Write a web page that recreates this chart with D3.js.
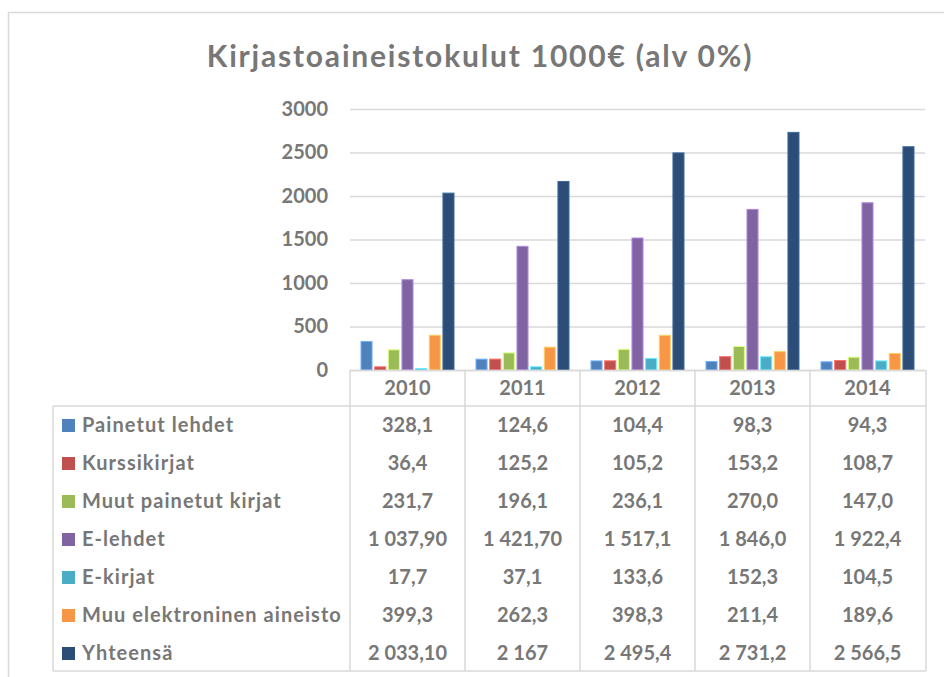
<!DOCTYPE html>
<head>
<meta charset="utf-8">
<title>Kirjastoaineistokulut</title>
<style>
body { margin: 0; background: #fff; }
text { font-family: Lato, "Open Sans", sans-serif; font-weight: bold; fill: #777; }
</style>
</head>
<body>
<svg id="chart" width="944" height="677"></svg>
<script src="https://cdn.jsdelivr.net/npm/d3@7"></script>
<script>
//-----------------------------DATA-----------------------------//
var years = ["2010", "2011", "2012", "2013", "2014"];
var seriesNames = ["Painetut lehdet", "Kurssikirjat", "Muut painetut kirjat", "E-lehdet",
    "E-kirjat", "Muu elektroninen aineisto", "Yhteensä"];
var colors = ["#4f81bd", "#c0504d", "#9bbb59", "#8064a2", "#4bacc6", "#f79646", "#2c4d75"];

var painetutLehdet = [328.1, 124.6, 104.4, 98.3, 94.3];
var kurssikirjat = [36.4, 125.2, 105.2, 153.2, 108.7];
var muutPainetut = [231.7, 196.1, 236.1, 270.0, 147.0];
var eLehdet = [1037.9, 1421.7, 1517.1, 1846.0, 1922.4];
var eKirjat = [17.7, 37.1, 133.6, 152.3, 104.5];
var muuElektroninen = [399.3, 262.3, 398.3, 211.4, 189.6];
var yhteensa = [2033.1, 2167, 2495.4, 2731.2, 2566.5];

// table cells as printed in the original (formatting differs per cell)
var painetutLehdetLabels = ["328,1", "124,6", "104,4", "98,3", "94,3"];
var kurssikirjatLabels = ["36,4", "125,2", "105,2", "153,2", "108,7"];
var muutPainetutLabels = ["231,7", "196,1", "236,1", "270,0", "147,0"];
var eLehdetLabels = ["1 037,90", "1 421,70", "1 517,1", "1 846,0", "1 922,4"];
var eKirjatLabels = ["17,7", "37,1", "133,6", "152,3", "104,5"];
var muuElektroninenLabels = ["399,3", "262,3", "398,3", "211,4", "189,6"];
var yhteensaLabels = ["2 033,10", "2 167", "2 495,4", "2 731,2", "2 566,5"];

var yTicks = [0, 500, 1000, 1500, 2000, 2500, 3000];

var allValues = [painetutLehdet, kurssikirjat, muutPainetut, eLehdet, eKirjat, muuElektroninen, yhteensa];
var allLabels = [painetutLehdetLabels, kurssikirjatLabels, muutPainetutLabels, eLehdetLabels,
    eKirjatLabels, muuElektroninenLabels, yhteensaLabels];

var series = seriesNames.map(function (name, i) {
    return {name: name, color: colors[i], values: allValues[i], labels: allLabels[i]};
});

//-----------------------------SVG------------------------------//
var svg = d3.select("svg");
var lineColor = "#d9d9d9";

// chart frame (top and left edges visible)
svg.append("path")
    .attr("d", "M8.5,677V12.5H944")
    .attr("fill", "none")
    .attr("stroke", lineColor)
    .attr("stroke-width", 1.5);

svg.append("text")
    .attr("x", 480)
    .attr("y", 67)
    .attr("text-anchor", "middle")
    .style("font-size", "30px")
    .style("letter-spacing", "1.8px")
    .text("Kirjastoaineistokulut 1000€ (alv 0%)");

//----------------------------SCALES----------------------------//
var x0 = d3.scaleBand().domain(years).range([350, 925]);
var x1 = d3.scaleBand().domain(seriesNames).range([11, 104]).paddingInner(0.19);
var y = d3.scaleLinear().domain([0, 3000]).range([370, 109]);

//-----------------------------AXES-----------------------------//
var yAxis = svg.append("g")
    .attr("transform", "translate(350,0)")
    .call(d3.axisLeft(y).tickValues(yTicks).tickFormat(d3.format("d")).tickSize(-575).tickPadding(22));
yAxis.select(".domain").remove();
yAxis.selectAll("line").attr("stroke", lineColor).attr("stroke-width", 1.5);
yAxis.selectAll("text")
    .style("font-size", "20px")
    .style("font-family", "Lato, sans-serif")
    .attr("fill", "#777");

//----------------------------BARS------------------------------//
var group = svg.selectAll(".year")
    .data(years)
    .enter().append("g")
    .attr("class", "year")
    .attr("transform", function (d) { return "translate(" + x0(d) + ",0)"; });

group.selectAll("rect")
    .data(function (d, j) {
        return series.map(function (s) { return {name: s.name, color: s.color, value: s.values[j]}; });
    })
    .enter().append("rect")
    .attr("x", function (d) { return x1(d.name); })
    .attr("width", x1.bandwidth())
    .attr("y", function (d) { return y(d.value); })
    .attr("height", function (d) { return y(0) - y(d.value); })
    .attr("fill", function (d) { return d.color; })
    .attr("stroke", function (d) { return d3.color(d.color).brighter(0.9); })
    .attr("stroke-width", 1);

//----------------------------TABLE-----------------------------//
var rowTop = 406, rowH = 38, tableLeft = 53;
var tableBottom = rowTop + rowH * series.length;
var table = svg.append("g").attr("fill", "none").attr("stroke", lineColor).attr("stroke-width", 1.5);

// header row
table.append("line").attr("x1", 350).attr("x2", 926).attr("y1", 370.5).attr("y2", 370.5);
table.append("line").attr("x1", tableLeft).attr("x2", 926).attr("y1", rowTop).attr("y2", rowTop);
table.append("line").attr("x1", tableLeft).attr("x2", 926).attr("y1", tableBottom - 1).attr("y2", tableBottom - 1);
table.append("line").attr("x1", tableLeft).attr("x2", tableLeft).attr("y1", rowTop).attr("y2", tableBottom - 1);
table.selectAll(".vline")
    .data(years.concat(["end"]))
    .enter().append("line")
    .attr("x1", function (d) { return d === "end" ? 926 : x0(d); })
    .attr("x2", function (d) { return d === "end" ? 926 : x0(d); })
    .attr("y1", 370)
    .attr("y2", tableBottom - 1);

svg.selectAll(".yearLabel")
    .data(years)
    .enter().append("text")
    .attr("x", function (d) { return x0(d) + x0.bandwidth() / 2; })
    .attr("y", 388)
    .attr("dy", "0.36em")
    .attr("text-anchor", "middle")
    .style("font-size", "20px")
    .text(function (d) { return d; });

var row = svg.selectAll(".row")
    .data(series)
    .enter().append("g")
    .attr("class", "row")
    .attr("transform", function (d, i) { return "translate(0," + (rowTop + rowH * i + rowH / 2) + ")"; });

row.append("rect")
    .attr("x", 62)
    .attr("y", -6)
    .attr("width", 13)
    .attr("height", 13)
    .attr("fill", function (d) { return d.color; });

row.append("text")
    .attr("x", 82)
    .attr("dy", "0.36em")
    .style("font-size", "20px")
    .style("letter-spacing", "1.05px")
    .text(function (d) { return d.name; });

row.selectAll(".cell")
    .data(function (d) { return d.labels; })
    .enter().append("text")
    .attr("class", "cell")
    .attr("x", function (d, j) { return x0(years[j]) + x0.bandwidth() / 2; })
    .attr("dy", "0.36em")
    .attr("text-anchor", "middle")
    .style("font-size", "20px")
    .text(function (d) { return d; });
</script>
</body>
